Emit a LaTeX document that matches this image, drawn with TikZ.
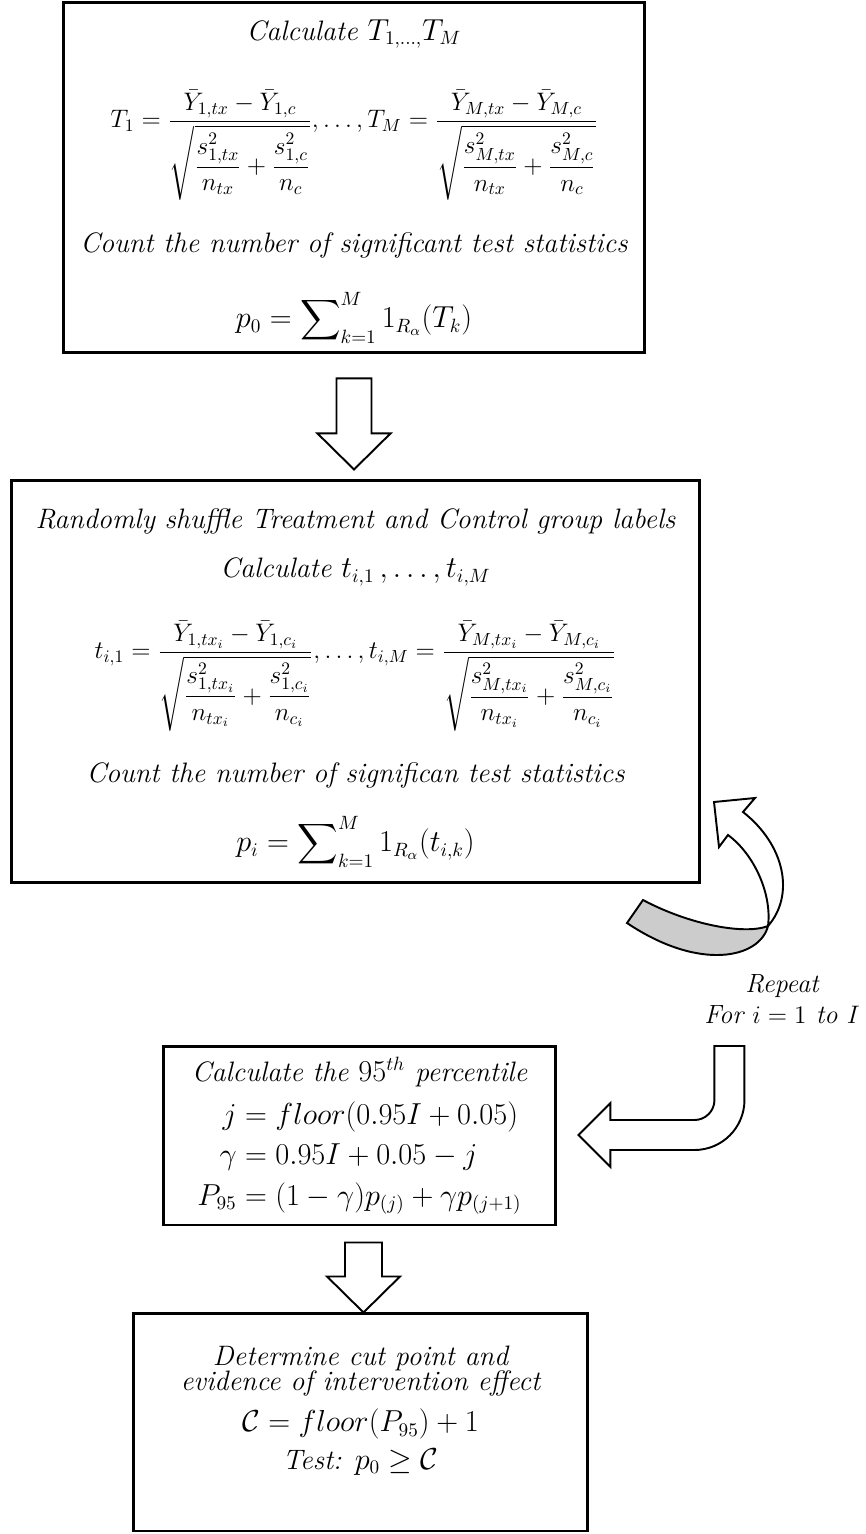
\documentclass[tikz,border=0pt]{standalone}
\usepackage{amsmath,amssymb}
\usepackage{tikz}
\usetikzlibrary{calc}
\begin{document}
\begin{tikzpicture}[x=0.02cm,y=-0.02cm,font=\fontsize{16}{19}\selectfont\itshape,
box/.style={draw,line width=1.7pt,inner sep=0pt},
eqn/.style={font=\fontsize{14}{17}\selectfont},
blk/.style={draw,line width=1.1pt,fill=white,line join=miter}]
\useasboundingbox(0,0)rectangle(865,1534);
\node[box,minimum width=11.64cm,minimum height=7.02cm](tstat)at(354,177.5){};
\node(tstat1)at(354,34){Calculate $T_{1,\ldots,}T_M$};
\node[eqn](tstat2)at(354,145){$T_1=\dfrac{\bar{Y}_{1,tx}-\bar{Y}_{1,c}}{\sqrt{\dfrac{s^2_{1,tx}}{n_{tx}}+\dfrac{s^2_{1,c}}{n_c}}},\ldots,T_M=\dfrac{\bar{Y}_{M,tx}-\bar{Y}_{M,c}}{\sqrt{\dfrac{s^2_{M,tx}}{n_{tx}}+\dfrac{s^2_{M,c}}{n_c}}}$};
\node(tstat3)at(354,245){Count the number of significant test statistics};
\node(tstat4)at(354,318){$\displaystyle p_0=\sum\nolimits_{k=1}^{M}1_{R_\alpha}(T_k)$};
\node[box,minimum width=13.78cm,minimum height=8.06cm](perm)at(355.5,681.5){};
\node(perm1)at(355.5,521){Randomly shuffle Treatment and Control group labels};
\node(perm2)at(355.5,572){Calculate $t_{i,1}\,,\ldots,t_{i,M}$};
\node[eqn](perm3)at(355.5,676){$t_{i,1}=\dfrac{\bar{Y}_{1,tx_i}-\bar{Y}_{1,c_i}}{\sqrt{\dfrac{s^2_{1,tx_i}}{n_{tx_i}}+\dfrac{s^2_{1,c_i}}{n_{c_i}}}},\ldots,t_{i,M}=\dfrac{\bar{Y}_{M,tx_i}-\bar{Y}_{M,c_i}}{\sqrt{\dfrac{s^2_{M,tx_i}}{n_{tx_i}}+\dfrac{s^2_{M,c_i}}{n_{c_i}}}}$};
\node(perm4)at(355.5,775){Count the number of significan test statistics};
\node(perm5)at(355.5,842){$\displaystyle p_i=\sum\nolimits_{k=1}^{M}1_{R_\alpha}(t_{i,k})$};
\node[box,minimum width=7.86cm,minimum height=3.58cm](pctl)at(359.5,1135.5){};
\node(pctl1)at(359.5,1072){Calculate the $95^{th}$ percentile};
\node(pctl2)at(359.5,1158){$\begin{aligned}j&=floor(0.95I+0.05)\\[1pt]\gamma&=0.95I+0.05-j\\[1pt]P_{95}&=(1-\gamma)p_{(j)}+\gamma p_{(j+1)}\end{aligned}$};
\node[box,minimum width=9.1cm,minimum height=4.36cm](cut)at(360.5,1422){};
\node[align=center,font=\fontsize{16}{14.5}\selectfont\itshape](cut1)at(360.5,1371){Determine cut point and\\evidence of intervention effect};
\node(cut3)at(360.5,1424){$\mathcal{C}=floor(P_{95})+1$};
\node(cut4)at(360.5,1462){Test: $p_0\geq\mathcal{C}$};
\node[align=center,font=\fontsize{15}{18}\selectfont\itshape](rep)at(782,999){Repeat\\For $i=1$ to $I$};
\draw[blk]($(tstat.south)+(-17.5,24)$)--++(35,0)--++(0,55)--++(19,0)--++(-36.5,36)--++(-36.5,-36)--++(19,0)--cycle;
\draw[blk]($(pctl.south)+(-14.5,16)$)--++(37,0)--++(0,34)--++(18,0)--++(-36.5,36)--++(-36.5,-36)--++(18,0)--cycle;
\draw[blk]($(pctl.east)+(21,-0.5)$)--++(32,-32)--++(0,17)--++(84,0)arc(90:0:20)--++(0,-54)--++(30,0)--++(0,54)arc(0:90:50)--++(-84,0)--++(0,17)--cycle;
\draw[blk,fill=black!20](643,900)..controls(690,925)and(745,935)..(768,926)..controls(760,958)and(700,972)..(627,923)--cycle;
\draw[blk](768,926)..controls(795,895)and(785,845)..(743,812)--(755,798)--(714,802)--(719,847)--(728,835)..controls(755,855)and(772,895)..(768,926)--cycle;
\end{tikzpicture}
\end{document}
